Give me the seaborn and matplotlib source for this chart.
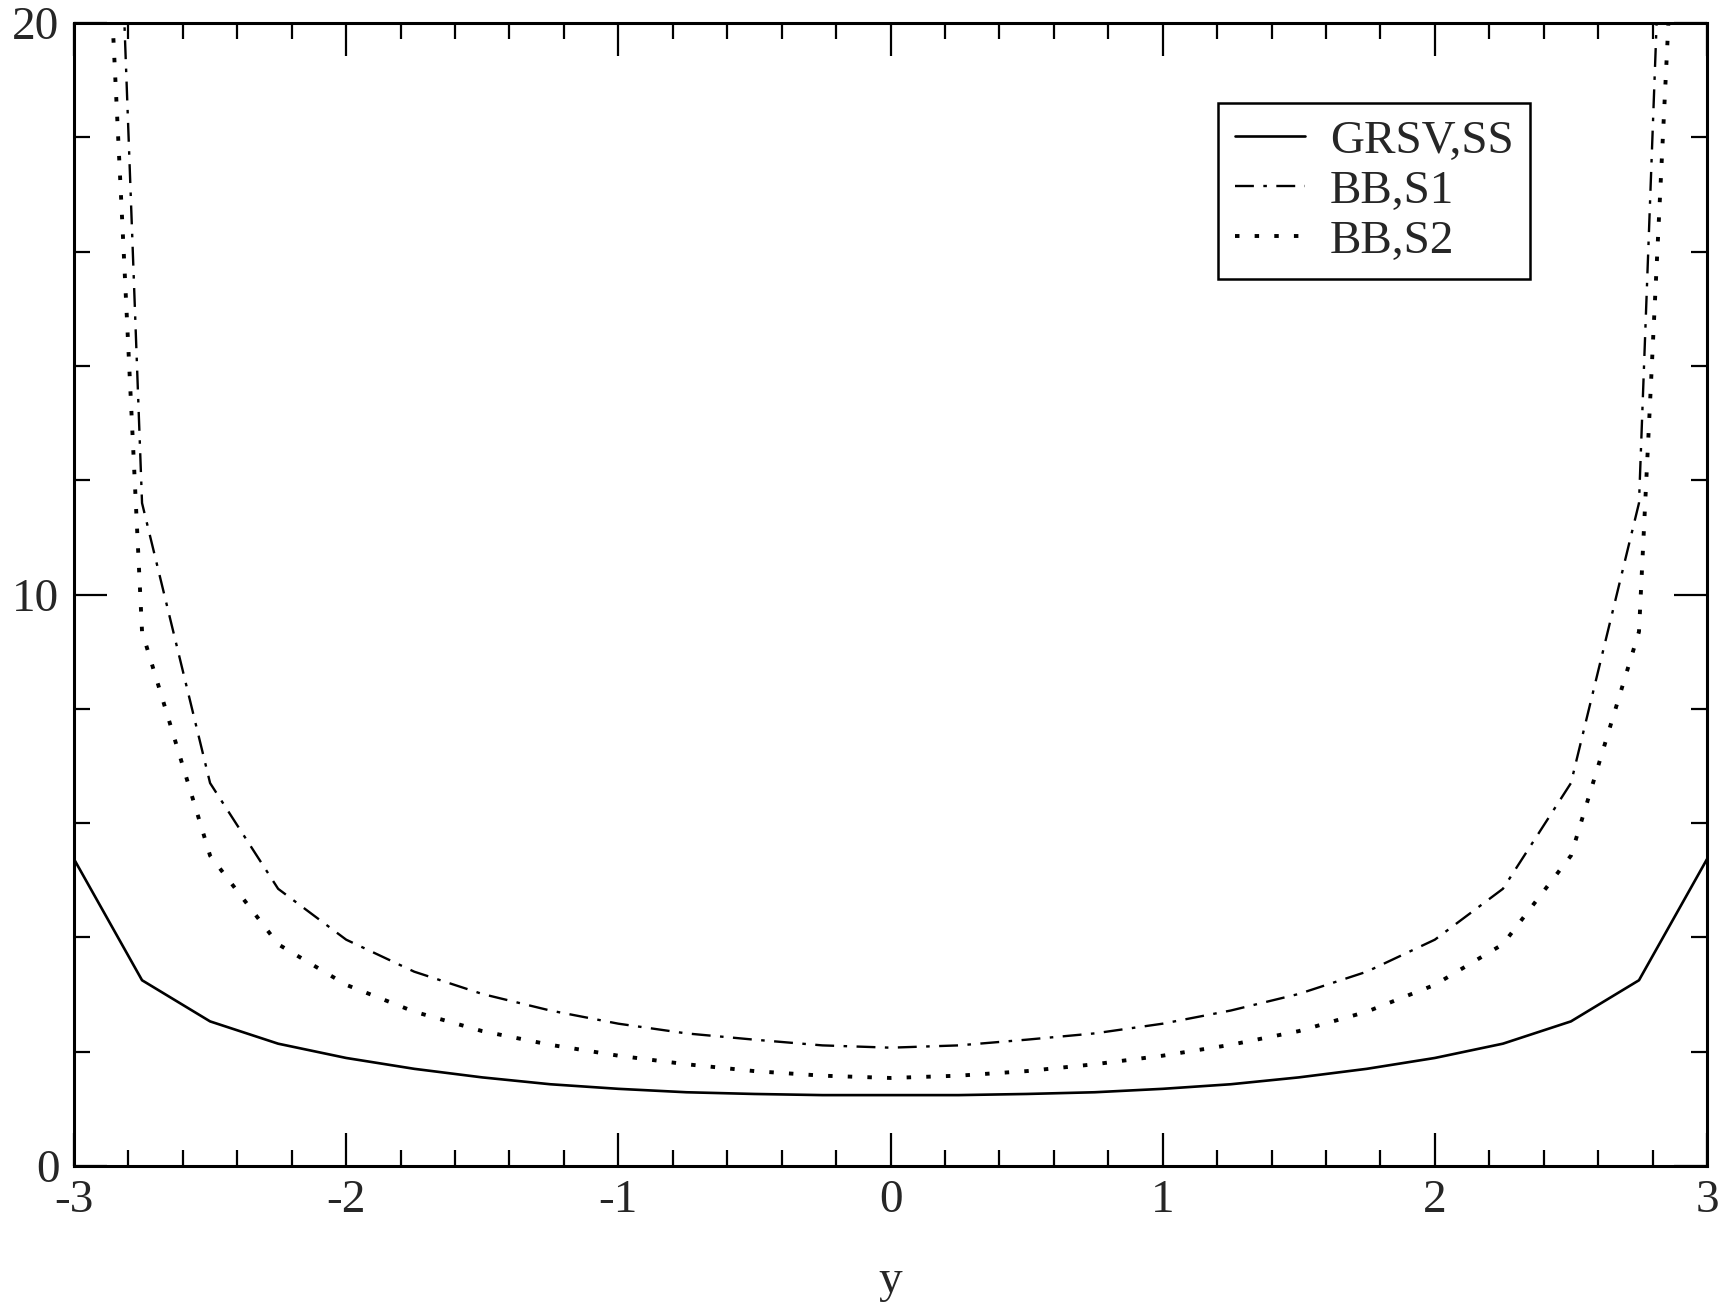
import numpy as np
import pandas as pd
import matplotlib
matplotlib.use("Agg")
import matplotlib.pyplot as plt
import seaborn as sns
from matplotlib.ticker import MultipleLocator

# Data (rapidity y)
y_vals = [-3.0, -2.75, -2.5, -2.25, -2.0, -1.75, -1.5, -1.25, -1.0, -0.75, -0.5, -0.25,
          0.0, 0.25, 0.5, 0.75, 1.0, 1.25, 1.5, 1.75, 2.0, 2.25, 2.5, 2.75, 3.0]
grsv_ss = [5.37, 3.25, 2.53, 2.14, 1.89, 1.70, 1.55, 1.43, 1.35, 1.29, 1.26, 1.24,
           1.24, 1.24, 1.26, 1.29, 1.35, 1.43, 1.55, 1.70, 1.89, 2.14, 2.53, 3.25, 5.37]
bb_s1 = [44.0, 11.6, 6.70, 4.85, 3.96, 3.40, 3.01, 2.72, 2.49, 2.32, 2.21, 2.11,
         2.07, 2.11, 2.21, 2.32, 2.49, 2.72, 3.01, 3.40, 3.96, 4.85, 6.70, 11.6, 44.0]
bb_s2 = [34.0, 9.35, 5.43, 3.88, 3.17, 2.70, 2.36, 2.12, 1.93, 1.78, 1.66, 1.58,
         1.54, 1.58, 1.66, 1.78, 1.93, 2.12, 2.36, 2.70, 3.17, 3.88, 5.43, 9.35, 34.0]
labels = ["GRSV,SS", "BB,S1", "BB,S2"]
x_ticks = [-3, -2, -1, 0, 1, 2, 3]
y_ticks = [0, 10, 20]

sns.set_theme(style="ticks")
plt.rcParams['font.family'] = ['Liberation Serif', 'DejaVu Serif']
plt.rcParams['axes.linewidth'] = 2.2

fig = plt.figure(figsize=(17.31, 13.16), dpi=100)
ax = fig.add_axes([0.04275, 0.1140, 0.9434, 0.8685])

df = pd.DataFrame({"y": y_vals, labels[0]: grsv_ss, labels[1]: bb_s1, labels[2]: bb_s2})

sns.lineplot(data=df, x="y", y=labels[0], ax=ax, color="black", linewidth=1.9,
             linestyle="-", label=labels[0])
sns.lineplot(data=df, x="y", y=labels[1], ax=ax, color="black", linewidth=1.7,
             linestyle=(0, (8, 4, 1.5, 4)), label=labels[1])
sns.lineplot(data=df, x="y", y=labels[2], ax=ax, color="black", linewidth=2.8,
             linestyle=(0, (1.15, 3.9)), label=labels[2], dash_capstyle="butt")

ax.set_xlim(-3, 3)
ax.set_ylim(0, 20)
ax.set_xticks(x_ticks)
ax.set_yticks(y_ticks)
ax.set_xticklabels([str(t) for t in x_ticks])
ax.set_yticklabels([str(t) for t in y_ticks])
ax.xaxis.set_minor_locator(MultipleLocator(0.2))
ax.yaxis.set_minor_locator(MultipleLocator(2))
ax.tick_params(which="both", direction="in", top=True, right=True, color="black", width=1.6)
ax.tick_params(which="major", length=23.5, labelsize=34)
ax.tick_params(axis="y", which="major", pad=10.5)
ax.tick_params(axis="x", which="major", pad=10)
ax.tick_params(which="minor", length=11.5)
ax.set_xlabel("y", fontsize=34, labelpad=27)
ax.set_ylabel("")
for s in ax.spines.values():
    s.set_color("black")
    s.set_linewidth(2.2)

leg = ax.legend(loc="upper left", bbox_to_anchor=(0.7006, 0.930), fontsize=34,
                frameon=True, fancybox=False, edgecolor="black", framealpha=1,
                handlelength=1.5, handletextpad=0.52, borderpad=0.35, labelspacing=0.15,
                borderaxespad=0)
leg.get_frame().set_linewidth(1.8)

fig.savefig("out.png", dpi=100, facecolor="white")
